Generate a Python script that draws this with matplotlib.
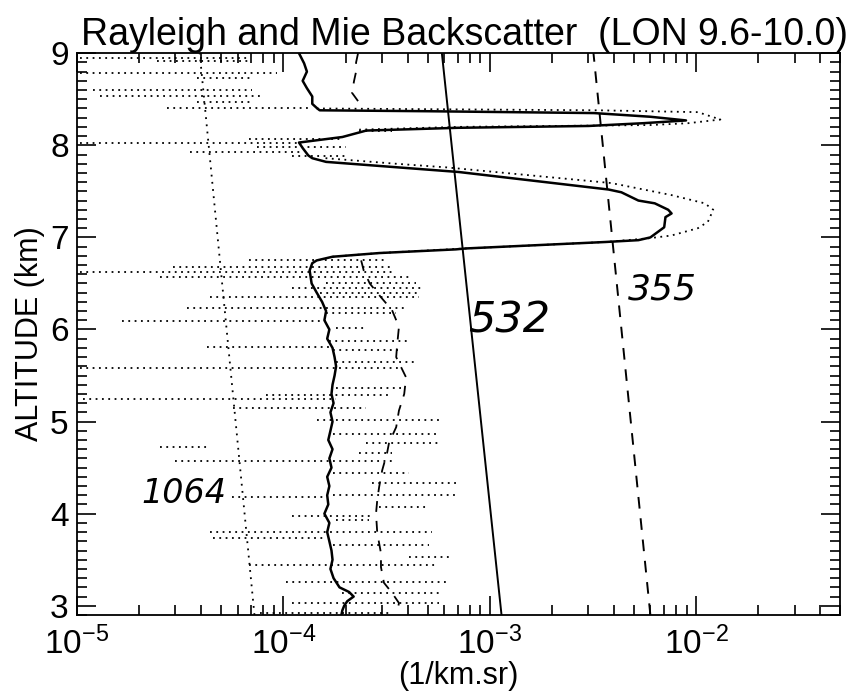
import numpy as np
import matplotlib
matplotlib.use("Agg")
import matplotlib.pyplot as plt
from matplotlib.ticker import MultipleLocator, LogLocator, NullFormatter

# Rayleigh backscatter (straight lines on the log plot), altitude endpoints
ray_alt = [2.9, 9.0]
ray_532 = [1.14e-3, 5.86e-4]
ray_355 = [6.0e-3, 3.18e-3]
ray_1064 = [7.24e-5, 3.93e-5]

# measured total backscatter, solid (532)
mie_alt = [9.00, 8.89, 8.80, 8.70, 8.62, 8.53, 8.45, 8.40, 8.38, 8.37, 8.35, 8.31,
           8.27, 8.24, 8.21, 8.19, 8.16, 8.09, 8.03, 7.97, 7.89, 7.86, 7.82, 7.71,
           7.52, 7.49, 7.40, 7.37, 7.30, 7.26, 7.22, 7.11, 7.00, 6.97, 6.95, 6.88,
           6.87, 6.83, 6.79, 6.75, 6.72, 6.64, 6.50, 6.40, 6.30, 6.20, 6.10, 6.00,
           5.90, 5.80, 5.70, 5.60, 5.50, 5.40, 5.30, 5.20, 5.10, 5.00, 4.90, 4.80,
           4.70, 4.60, 4.50, 4.40, 4.30, 4.20, 4.10, 4.00, 3.90, 3.80, 3.70, 3.60,
           3.50, 3.40, 3.30, 3.20, 3.15, 3.10, 3.05, 3.00, 2.95, 2.90]
mie_532 = [1.19e-4, 1.26e-4, 1.30e-4, 1.24e-4, 1.30e-4, 1.38e-4, 1.38e-4, 1.46e-4, 1.50e-4, 5.0e-4,
           3.2e-3, 6.0e-3, 8.93e-3, 5.54e-3, 3.01e-3, 7.0e-4, 2.52e-4, 1.93e-4, 1.19e-4, 1.24e-4,
           1.32e-4, 1.38e-4, 1.61e-4, 7.08e-4, 3.76e-3, 4.34e-3, 5.25e-3, 6.30e-3, 7.32e-3, 7.60e-3,
           7.10e-3, 7.00e-3, 6.00e-3, 5.25e-3, 3.63e-3, 7.66e-4, 6.85e-4, 2.91e-4, 1.73e-4, 1.45e-4,
           1.38e-4, 1.34e-4, 1.37e-4, 1.45e-4, 1.54e-4, 1.61e-4, 1.58e-4, 1.67e-4, 1.63e-4, 1.73e-4,
           1.77e-4, 1.80e-4, 1.77e-4, 1.73e-4, 1.71e-4, 1.75e-4, 1.69e-4, 1.73e-4, 1.69e-4, 1.65e-4,
           1.73e-4, 1.67e-4, 1.71e-4, 1.63e-4, 1.67e-4, 1.63e-4, 1.65e-4, 1.58e-4, 1.67e-4, 1.63e-4,
           1.67e-4, 1.71e-4, 1.73e-4, 1.69e-4, 1.75e-4, 1.87e-4, 2.08e-4, 2.19e-4, 2.04e-4, 1.97e-4,
           1.93e-4, 1.91e-4]

# measured total backscatter, dashed (gap where it leaves the plot)
dsh_alt = [9.00, 8.90, 8.80, 8.70, 8.57, 8.48, 8.40,
           6.75, 6.72, 6.64, 6.50, 6.35, 6.21, 6.03, 5.81, 5.70, 5.48, 5.30, 5.12,
           4.94, 4.77, 4.66, 4.47, 4.29, 4.15, 4.00, 3.79, 3.57, 3.42, 3.25, 3.14,
           3.03, 2.92]
dsh_val = [2.30e-4, 2.25e-4, 2.25e-4, 2.20e-4, 2.15e-4, 2.30e-4, np.nan,
           2.38e-4, 2.40e-4, 2.45e-4, 2.62e-4, 2.97e-4, 3.36e-4, 3.63e-4, 3.55e-4, 3.52e-4, 3.93e-4, 3.85e-4, 3.63e-4,
           3.52e-4, 3.25e-4, 3.18e-4, 3.01e-4, 2.91e-4, 2.85e-4, 2.81e-4, 2.85e-4, 2.97e-4, 2.97e-4, 3.07e-4, 3.36e-4,
           3.63e-4, 3.55e-4]

# dotted profile inside the two cloud layers
cld_alt = [8.40, 8.38, 8.36, 8.28, 8.24, 8.22, 8.20, 8.17, np.nan,
           7.86, 7.80, 7.76, 7.59, 7.46, 7.37, 7.30, 7.17, 7.10, 7.02, 6.99, 6.95, 6.88, 6.83, 6.79]
cld_val = [1.45e-4, 3.37e-3, 1.02e-2, 1.31e-2, 9.14e-3, 6.0e-3, 7.08e-4, 2.33e-4, np.nan,
           1.60e-4, 3.50e-4, 6.20e-4, 3.88e-3, 7.57e-3, 1.10e-2, 1.21e-2, 1.14e-2, 1.02e-2, 7.57e-3, 5.86e-3,
           3.63e-3, 7.66e-4, 2.91e-4, 1.73e-4]

# dotted profile outside the clouds: noisy, drawn as horizontal excursions
spn_alt = [8.95, 8.92, 8.79, 8.73, 8.60, 8.53, 8.47, 8.40, 8.15, 8.07, 8.03, 7.98, 7.93, 7.88,
           6.76, 6.68, 6.62, 6.57, 6.51, 6.45, 6.40, 6.35, 6.23, 6.18, 6.09, 6.02, 5.88, 5.81,
           5.78, 5.65, 5.58, 5.37, 5.29, 5.25, 5.15, 5.02, 4.87, 4.77, 4.72, 4.66, 4.57, 4.44,
           4.33, 4.20, 4.18, 4.07, 3.97, 3.93, 3.80, 3.74, 3.66, 3.53, 3.44, 3.26, 3.14, 3.03,
           2.92]
spn_lo = [1.03e-5, 2.43e-5, 1.03e-5, 3.80e-5, 1.19e-5, 1.29e-5, 3.80e-5, 2.72e-5, 2.33e-4, 6.85e-5, 1.03e-5,
          7.41e-5, 3.51e-5, 1.10e-4,
          6.85e-5, 2.91e-5, 1.03e-5, 2.52e-5, 1.60e-4, 1.10e-4, 1.50e-4, 4.39e-5, 3.40e-5, 1.61e-4, 1.65e-5,
          1.80e-4, 1.67e-4, 4.25e-5, 1.73e-4, 1.80e-4, 1.03e-5, 1.80e-4, 8.28e-5, 1.07e-5, 5.67e-5, 1.45e-4,
          1.73e-4, 2.52e-4, 2.52e-5, 2.33e-4, 2.97e-5, 1.73e-4, 2.69e-4, 1.73e-4, 5.61e-5, 2.91e-4, 1.10e-4,
          1.80e-4, 4.39e-5, 4.54e-5, 1.73e-4, 4.07e-4, 6.85e-5, 1.03e-4, 1.93e-4, 1.10e-4, 7.66e-5]
spn_hi = [6.63e-5, 6.85e-5, 9.35e-5, 7.08e-5, 7.08e-5, 7.66e-5, 7.08e-5, 1.38e-4, 3.36e-4, 1.93e-4, 1.19e-4,
          2.02e-4, 1.24e-4, 2.02e-4,
          3.15e-4, 3.36e-4, 3.36e-4, 4.20e-4, 4.40e-4, 4.65e-4, 4.50e-4, 4.54e-4, 3.93e-4, 3.52e-4, 1.61e-4,
          2.52e-4, 3.98e-4, 1.67e-4, 3.76e-4, 4.45e-4, 3.76e-4, 3.76e-4, 3.36e-4, 1.80e-4, 2.52e-4, 5.67e-4,
          5.67e-4, 5.67e-4, 4.39e-5, 3.36e-4, 3.36e-4, 4.07e-4, 7.08e-4, 7.08e-4, 1.61e-4, 4.90e-4, 2.69e-4,
          2.60e-4, 5.25e-4, 1.61e-4, 5.07e-4, 6.46e-4, 5.48e-4, 6.19e-4, 5.80e-4, 5.67e-4, 3.36e-4]

# handwritten wavelength labels
notes = ["1064", "532", "355"]
note_x = [3.3e-5, 1.24e-3, 6.9e-3]
note_y = [4.22, 6.10, 6.43]
note_size = [24, 31, 26]

plt.rcParams['font.family'] = ['Liberation Sans', 'DejaVu Sans']
plt.rcParams['mathtext.fontset'] = 'custom'
plt.rcParams['mathtext.rm'] = 'Liberation Sans'
plt.rcParams['mathtext.default'] = 'rm'

fig = plt.figure(figsize=(8.52, 6.91), dpi=100)
ax = fig.add_axes([0.0904, 0.110, 0.896, 0.813])

ax.plot(ray_532, ray_alt, color='black', lw=1.4)
ax.plot(ray_355, ray_alt, color='black', lw=1.4, linestyle=(0, (6, 5)))
ax.plot(ray_1064, ray_alt, color='black', lw=1.3, linestyle=(0, (1, 3)))

ax.plot(mie_532, mie_alt, color='black', lw=1.8)
ax.plot(dsh_val, dsh_alt, color='black', lw=1.3, linestyle=(0, (6, 5)))
ax.plot(cld_val, cld_alt, color='black', lw=1.3, linestyle=(0, (1, 2.5)))
ax.hlines(spn_alt, spn_lo, spn_hi, color='black', lw=1.3, linestyles=(0, (1, 2.5)))

for txt, x, y, s in zip(notes, note_x, note_y, note_size):
    ax.text(x, y, txt, fontsize=s, style='italic', ha='center', va='center',
            family='DejaVu Sans', fontweight='light')

ax.set_xscale('log')
ax.set_xlim(1e-5, 5e-2)
ax.set_ylim(2.9, 9.0)
ax.yaxis.set_major_locator(MultipleLocator(1))
ax.yaxis.set_minor_locator(MultipleLocator(0.1))
ax.xaxis.set_major_locator(LogLocator(base=10, numticks=10))
ax.xaxis.set_minor_locator(LogLocator(base=10, subs=np.arange(2, 10), numticks=10))
ax.xaxis.set_minor_formatter(NullFormatter())

ax.tick_params(which='both', direction='in', top=True, right=True, width=1.2)
ax.tick_params(which='major', length=14)
ax.tick_params(which='minor', length=7)
ax.tick_params(axis='x', which='major', pad=8, labelsize=24)
ax.tick_params(axis='y', which='major', pad=6, labelsize=24)
for sp in ax.spines.values():
    sp.set_linewidth(1.3)

ax.set_ylabel('ALTITUDE (km)', fontsize=22, labelpad=4)
ax.set_xlabel('(1/km.sr)', fontsize=22, labelpad=0)
ax.set_title('Rayleigh and Mie Backscatter  (LON 9.6-10.0)', fontsize=27, pad=6, x=0.508)

fig.savefig('out.png', dpi=100)
